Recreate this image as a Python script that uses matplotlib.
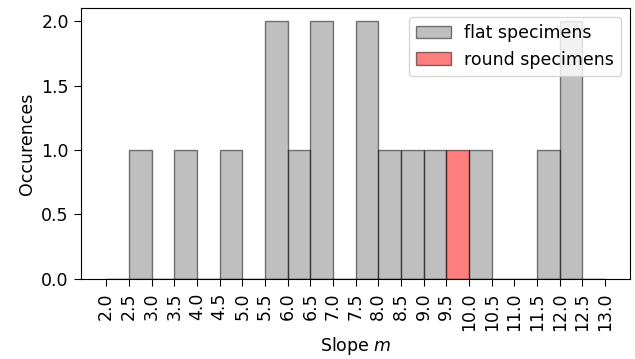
import matplotlib
matplotlib.use("Agg")
import matplotlib.pyplot as plt
import numpy as np

bin_edges = np.arange(2.0, 13.01, 0.5)
flat_counts = [0, 1, 0, 1, 0, 1, 0, 2, 1, 2, 0, 2, 1, 1, 1, 0, 1, 0, 0, 1, 2, 0]
round_counts = [0, 0, 0, 0, 0, 0, 0, 0, 0, 0, 0, 0, 0, 0, 0, 1, 0, 0, 0, 0, 0, 0]

plt.rcParams["font.size"] = 12.5
plt.rcParams["xtick.major.size"] = 5
plt.rcParams["ytick.major.size"] = 5
plt.rcParams["xtick.major.pad"] = 5
plt.rcParams["ytick.major.pad"] = 4

fig, ax = plt.subplots(figsize=(6.35, 3.59), dpi=100)

ax.hist(bin_edges[:-1], bins=bin_edges, weights=flat_counts,
        color="gray", edgecolor="black", alpha=0.5, label="flat specimens")
ax.hist(bin_edges[:-1], bins=bin_edges, weights=round_counts,
        color="red", edgecolor="black", alpha=0.5, label="round specimens")

ax.set_xticks(bin_edges)
ax.set_xticklabels([f"{b:.1f}" for b in bin_edges], rotation=90)
ax.set_yticks([0.0, 0.5, 1.0, 1.5, 2.0])
ax.set_xlabel("Slope $m$", labelpad=3)
ax.set_ylabel("Occurences")
ax.legend(loc="upper right")

fig.subplots_adjust(left=0.128, right=0.992, top=0.977, bottom=0.223)
plt.savefig("out.png")
